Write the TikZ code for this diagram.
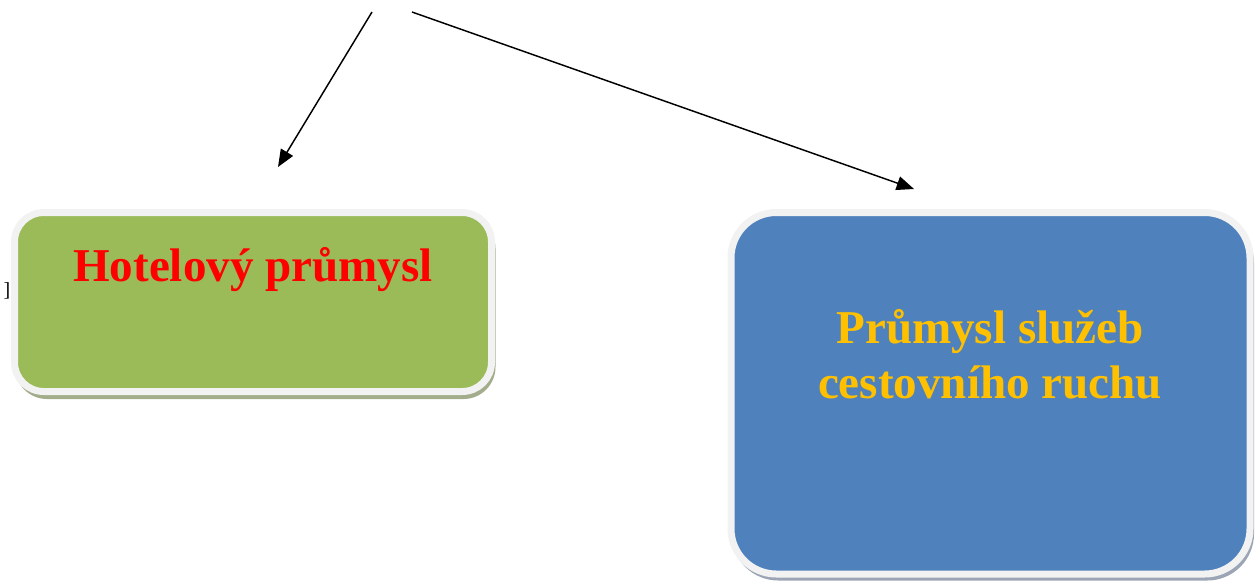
\documentclass[tikz,border=0pt]{standalone}
\usepackage{fontspec}
\setmainfont{Liberation Serif}
\usetikzlibrary{arrows.meta}

\definecolor{hotelgreen}{HTML}{9BBB59}
\definecolor{tourblue}{HTML}{4F81BD}
\definecolor{framegray}{HTML}{F2F2F2}
\definecolor{greenshade}{HTML}{A3AD8B}
\definecolor{blueshade}{HTML}{9CA5B5}
\definecolor{labelgold}{HTML}{FFC000}

\tikzset{every picture/.style={line width=0.75pt}}
\tikzset{
  boxframe/.style={draw=framegray, line width=5.25pt},
  boxlabel/.style={font=\fontsize{35.3}{41}\selectfont\bfseries, align=center},
  pointer/.style={line width=1.1pt, -{Triangle[length=13pt,width=10.5pt]}}
}

\begin{document}
\begin{tikzpicture}[x=0.75pt,y=0.75pt,yscale=-1,xscale=1]
\useasboundingbox (0,0) rectangle (1257,583);

% Shadow
\fill[greenshade, rounded corners=24pt] (15,216.5) rectangle (495.5,399);
\fill[blueshade, rounded corners=35pt] (731.5,216.5) rectangle (1254,580.5);
% Box
\draw[boxframe, fill=hotelgreen, rounded corners=22pt] (14.5,212.5) rectangle (491.5,391.5);
\draw[boxframe, fill=tourblue, rounded corners=34pt] (731,212.5) rectangle (1250,574);

% Text Node
\node[boxlabel, text=red, anchor=base] (hotel) at (253,281) {Hotelový průmysl};
% Text Node
\node[boxlabel, text=labelgold] (tour) at (990,354) {Průmysl služeb\\cestovního ruchu};
% Text Node
\node[font=\fontsize{15}{17}\selectfont] (bracket) at (7,291) {]};

\coordinate (srcA) at (372,12);
\coordinate (srcB) at (412,12);
\coordinate (tipA) at (278,167);
\coordinate (tipB) at (914,189);

% Connection
\draw[pointer] (srcA) -- (tipA);
% Connection
\draw[pointer] (srcB) -- (tipB);

\end{tikzpicture}
\end{document}
